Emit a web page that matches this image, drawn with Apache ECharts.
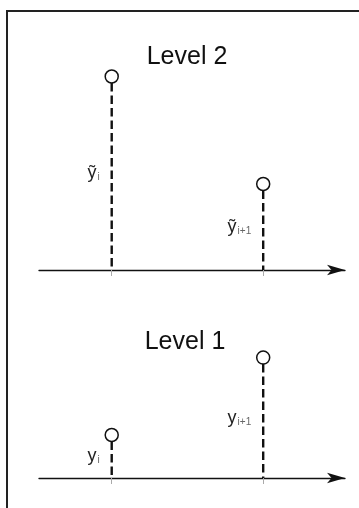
<!DOCTYPE html>
<html>
<head>
<meta charset="utf-8">
<script src="https://cdn.jsdelivr.net/npm/echarts@6/dist/echarts.min.js"></script>
<style>
  html, body { margin: 0; padding: 0; background: #fff; }
  #chart { width: 359px; height: 508px; }
</style>
</head>
<body>
<div id="chart"></div>
<script>
// sample positions (i, i+1) and values per level
const positions = [1, 2];
const level2Values = [4.5, 2.0];
const level1Values = [1.0, 2.8];
const level2Names = ['ỹ', 'ỹ'];
const level1Names = ['y', 'y'];
const subscripts = ['i', 'i+1'];
const levelTitles = ['Level 2', 'Level 1'];

const chart = echarts.init(document.getElementById('chart'), null, { renderer: 'canvas' });

function stemSeries(idx, values, names) {
  const data = positions.map((x, i) => [x, values[i], names[i], subscripts[i]]);
  return [
    {
      type: 'custom',
      xAxisIndex: idx,
      yAxisIndex: idx,
      silent: true,
      data,
      renderItem(params, api) {
        const base = api.coord([api.value(0), 0]);
        const top = api.coord([api.value(0), api.value(1)]);
        const mid = api.coord([api.value(0), api.value(1) * 0.5]);
        return {
          type: 'group',
          children: [
            {
              type: 'line',
              shape: { x1: top[0], y1: top[1] + 6.5, x2: base[0], y2: base[1] },
              style: { stroke: '#111', lineWidth: 2.4, lineDash: [8.5, 4] }
            },
            {
              type: 'text',
              x: top[0] - 12,
              y: mid[1],
              style: {
                text: `{b|${api.value(2)}}{s|${api.value(3)}}`,
                align: 'right',
                verticalAlign: 'middle',
                rich: {
                  b: { fontSize: 18, fontFamily: 'Liberation Sans', fill: '#222' },
                  s: { fontSize: 10, fontFamily: 'Liberation Sans', fill: '#666', padding: [8, 0, 0, 1] }
                }
              }
            }
          ]
        };
      }
    },
    {
      type: 'scatter',
      xAxisIndex: idx,
      yAxisIndex: idx,
      silent: true,
      symbol: 'circle',
      symbolSize: 13,
      z: 5,
      itemStyle: { color: '#fff', borderColor: '#111', borderWidth: 1.5, opacity: 1 },
      data: data.map(d => [d[0], d[1]])
    }
  ];
}

const xAxisBase = {
  type: 'value',
  min: 0.52,
  max: 2.54,
  splitLine: { show: false },
  axisLabel: { show: false },
  axisLine: {
    show: true,
    symbol: ['none', 'arrow'],
    symbolSize: [8, 18],
    lineStyle: { color: '#111', width: 1.3 }
  },
  axisTick: {
    show: true,
    customValues: positions,
    length: 6,
    lineStyle: { color: '#aaa', width: 1 }
  }
};

const yAxisBase = {
  type: 'value',
  min: 0,
  show: false,
  splitLine: { show: false }
};

chart.setOption({
  animation: false,
  backgroundColor: '#fff',
  grid: [
    { left: 39, width: 306, top: 55, height: 215 },
    { left: 39, width: 306, top: 306, height: 172 }
  ],
  xAxis: [
    Object.assign({ gridIndex: 0 }, xAxisBase),
    Object.assign({ gridIndex: 1 }, xAxisBase)
  ],
  yAxis: [
    Object.assign({ gridIndex: 0, max: 5 }, yAxisBase),
    Object.assign({ gridIndex: 1, max: 4 }, yAxisBase)
  ],
  graphic: [
    {
      type: 'rect',
      shape: { x: 7, y: 11, width: 420, height: 600 },
      style: { fill: 'none', stroke: '#222', lineWidth: 2 },
      silent: true
    },
    {
      type: 'text', x: 187, y: 57,
      style: { text: levelTitles[0], fontSize: 25, fontFamily: 'Liberation Sans', fill: '#111', align: 'center', verticalAlign: 'middle' }
    },
    {
      type: 'text', x: 185, y: 342,
      style: { text: levelTitles[1], fontSize: 25, fontFamily: 'Liberation Sans', fill: '#111', align: 'center', verticalAlign: 'middle' }
    }
  ],
  series: [].concat(
    stemSeries(0, level2Values, level2Names),
    stemSeries(1, level1Values, level1Names)
  )
});
</script>
</body>
</html>
